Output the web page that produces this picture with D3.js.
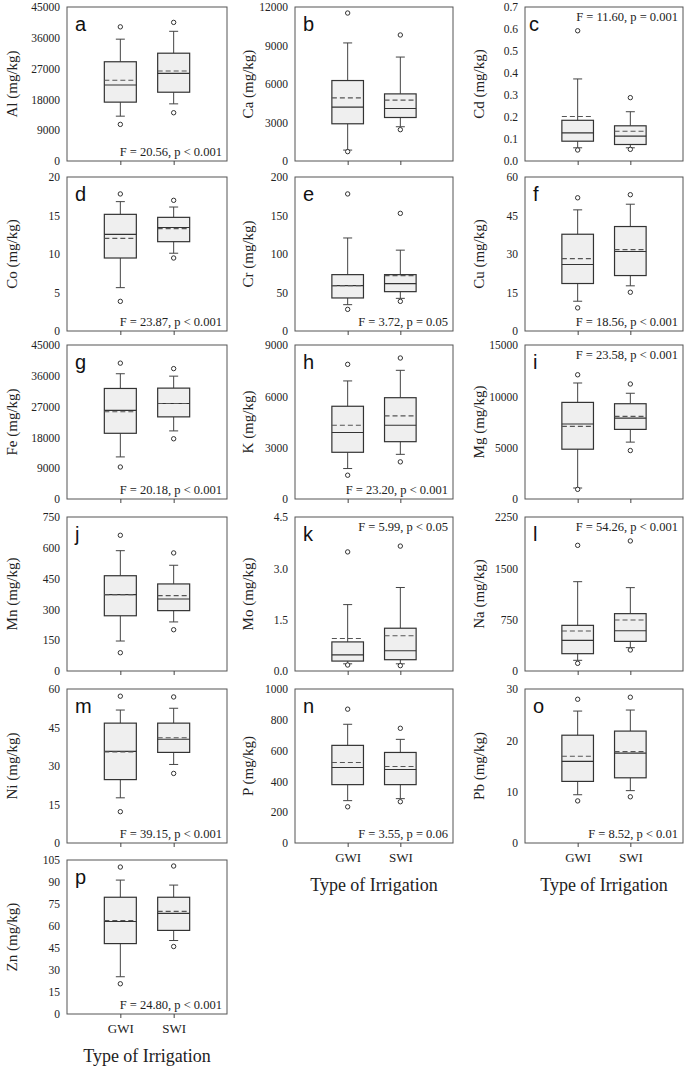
<!DOCTYPE html>
<html><head><meta charset="utf-8">
<script src="https://cdn.jsdelivr.net/npm/d3@7"></script>
<style>body{margin:0;background:#fff}svg{display:block}</style>
</head><body>
<svg id="chart" width="685" height="1071"></svg>
<script>
// ---- data ----
const letters  = ["a","b","c","d","e","f","g","h","i","j","k","l","m","n","o","p"];
const elements = ["Al","Ca","Cd","Co","Cr","Cu","Fe","K","Mg","Mn","Mo","Na","Ni","P","Pb","Zn"];
const groups   = ["GWI","SWI"];
const yMax  = [45000,12000,0.7,20,200,60,45000,9000,15000,750,4.5,2250,60,1000,30,105];
const yStep = [9000,3000,0.1,5,50,15,9000,3000,5000,150,1.5,750,15,200,10,15];
const fTexts = ["F = 20.56, p < 0.001","","F = 11.60, p = 0.001","F = 23.87, p < 0.001","F = 3.72, p = 0.05",
  "F = 18.56, p < 0.001","F = 20.18, p < 0.001","F = 23.20, p < 0.001","F = 23.58, p < 0.001","",
  "F = 5.99, p < 0.05","F = 54.26, p < 0.001","F = 39.15, p < 0.001","F = 3.55, p = 0.06","F = 8.52, p < 0.01","F = 24.80, p < 0.001"];
const fAtTop = [false,false,true,false,false,false,false,false,true,false,true,true,false,false,false,false];
// stats: [low outlier, low whisker, Q1, median, Q3, high whisker, high outlier, mean]
const gwiStats = [
  [10700,13100,17200,22200,29000,35600,39200,23600],
  [730,850,2900,4200,6270,9200,11530,4920],
  [0.050,0.060,0.090,0.128,0.185,0.373,0.592,0.202],
  [3.85,5.63,9.48,12.55,15.15,16.8,17.8,12.03],
  [28.1,34.2,42.9,58.9,73.2,120.8,178,58.9],
  [9.0,11.6,18.5,25.9,37.7,47.2,51.9,28.2],
  [9350,12300,19200,25900,32300,36600,39700,25500],
  [1390,1780,2730,3890,5420,6900,7870,4310],
  [940,1070,4850,7300,9410,11300,12100,7070],
  [89,146,269,372,464,586,661,372],
  [0.175,0.21,0.29,0.47,0.85,1.94,3.48,0.95],
  [112,156,253,448,667,1305,1836,584],
  [12.2,17.6,24.7,35.7,46.7,51.8,57.2,35.5],
  [235,275,379,490,634,771,869,523],
  [8.2,9.4,12.0,15.9,21.0,25.7,28.0,16.9],
  [20.6,25.4,48.0,63.1,79.6,91.3,100.2,63.8]
];
const swiStats = [
  [14100,16700,20100,25600,31500,37900,40500,26300],
  [2440,2670,3390,4090,5230,8100,9820,4740],
  [0.053,0.060,0.075,0.113,0.160,0.224,0.288,0.135],
  [9.48,10.1,11.6,13.45,14.76,16.1,16.97,13.3],
  [38.5,42.4,51.1,61.5,73.2,105,152.8,71.9],
  [15.1,17.6,21.6,31.0,40.7,49.4,53.1,31.7],
  [17600,19900,24000,27900,32400,35900,38100,27900],
  [2170,2610,3350,4310,5920,7520,8240,4860],
  [4720,5540,6780,7880,9280,10300,11200,8050],
  [201,239,294,351,424,515,575,367],
  [0.156,0.21,0.33,0.59,1.25,2.44,3.65,1.03],
  [307,341,433,589,838,1218,1900,745],
  [27.1,30.6,35.3,40.4,46.7,52.5,56.9,41.0],
  [268,288,379,477,588,673,745,497],
  [9.0,10.2,12.7,17.5,21.8,25.9,28.4,17.8],
  [46.0,50.1,57.0,68.6,79.6,87.9,100.9,70.0]
];
const xTitle = "Type of Irrigation";

// ---- layout ----
const colLeft = [67, 295, 525];
const colWidth = [160, 158, 158];
const rowTop = [7, 177, 345, 517, 689, 860];
const plotH = 154;
const titleOffset = [53, 45, 44];
const serif = "'Liberation Serif','Times New Roman',serif";
const sans = "'Liberation Sans',Arial,sans-serif";
const bottomPanels = ["m","n","o","p"].slice(1); // n, o, p carry x labels

const svg = d3.select("#chart");

letters.forEach((L, i) => {
  const col = i % 3, row = Math.floor(i / 3);
  const left = colLeft[col], right = left + colWidth[col];
  const top = rowTop[row], bottom = top + plotH;
  const g = svg.append("g");
  const y = d3.scaleLinear().domain([0, yMax[i]]).range([bottom, top]);
  const x = d3.scaleLinear().domain([0, 3]).range([left, right]);
  const frac = !Number.isInteger(yStep[i]);
  const fmt = frac ? d3.format(".1f") : d3.format("d");
  const ticks = d3.range(0, yMax[i] + yStep[i] * 0.01, yStep[i]);

  // frame
  g.append("rect").attr("x", left).attr("y", top).attr("width", right - left).attr("height", plotH)
    .attr("fill", "none").attr("stroke", "#555").attr("stroke-width", 1);

  // y axis
  const ya = g.append("g").attr("transform", `translate(${left},0)`)
    .call(d3.axisLeft(y).tickValues(ticks).tickSize(0).tickPadding(7).tickFormat(fmt));
  ya.select(".domain").remove();
  ya.selectAll("text").attr("font-family", serif).attr("font-size", 11.5).attr("fill", "#222");

  // x axis
  const showX = bottomPanels.includes(L);
  const xa = g.append("g").attr("transform", `translate(0,${bottom})`)
    .call(d3.axisBottom(x).tickValues([1, 2]).tickSize(4).tickPadding(6)
      .tickFormat((d) => showX ? groups[d - 1] : ""));
  xa.select(".domain").remove();
  xa.selectAll("line").attr("stroke", "#444");
  xa.selectAll("text").attr("font-family", serif).attr("font-size", 13).attr("fill", "#222");

  // y title
  g.append("text")
    .attr("transform", `translate(${left - titleOffset[col]},${(top + bottom) / 2}) rotate(-90)`)
    .attr("text-anchor", "middle").attr("dominant-baseline", "middle")
    .attr("font-family", serif).attr("font-size", 15).attr("fill", "#222")
    .text(`${elements[i]} (mg/kg)`);

  // x title
  if (showX) {
    g.append("text").attr("x", (left + right) / 2).attr("y", bottom + 48)
      .attr("text-anchor", "middle").attr("font-family", serif).attr("font-size", 18).attr("fill", "#222")
      .text(xTitle);
  }

  // boxes
  [gwiStats[i], swiStats[i]].forEach((s, k) => {
    const cx = x(k + 1), bw = x(0.6) - x(0), cap = 9;
    const bx = g.append("g");
    // whiskers
    bx.append("line").attr("x1", cx).attr("x2", cx).attr("y1", y(s[4])).attr("y2", y(s[5])).attr("stroke", "#444");
    bx.append("line").attr("x1", cx).attr("x2", cx).attr("y1", y(s[2])).attr("y2", y(s[1])).attr("stroke", "#444");
    bx.append("line").attr("x1", cx - cap / 2).attr("x2", cx + cap / 2).attr("y1", y(s[5])).attr("y2", y(s[5])).attr("stroke", "#444");
    bx.append("line").attr("x1", cx - cap / 2).attr("x2", cx + cap / 2).attr("y1", y(s[1])).attr("y2", y(s[1])).attr("stroke", "#444");
    // box
    bx.append("rect").attr("x", cx - bw / 2).attr("y", y(s[4])).attr("width", bw).attr("height", y(s[2]) - y(s[4]))
      .attr("fill", "#efefef").attr("stroke", "#333").attr("stroke-width", 1.2);
    // median
    bx.append("line").attr("x1", cx - bw / 2).attr("x2", cx + bw / 2).attr("y1", y(s[3])).attr("y2", y(s[3]))
      .attr("stroke", "#333").attr("stroke-width", 1.1);
    // mean
    bx.append("line").attr("x1", cx - bw / 2).attr("x2", cx + bw / 2).attr("y1", y(s[7])).attr("y2", y(s[7]))
      .attr("stroke", "#555").attr("stroke-width", 1.1).attr("stroke-dasharray", "5,3");
    // outliers
    [s[0], s[6]].forEach(v => {
      bx.append("circle").attr("cx", cx).attr("cy", y(v)).attr("r", 2.2)
        .attr("fill", "#fff").attr("stroke", "#333").attr("stroke-width", 1);
    });
  });

  // panel letter
  g.append("text").attr("x", left + (L === "c" ? 4 : 8)).attr("y", top + 24)
    .attr("font-family", sans).attr("font-size", 20).attr("fill", "#111").text(L);

  // F text
  if (fTexts[i]) {
    g.append("text").attr("x", right - 5).attr("y", fAtTop[i] ? top + 14 : bottom - 5)
      .attr("text-anchor", "end").attr("font-family", serif).attr("font-size", 12.5).attr("fill", "#222")
      .text(fTexts[i]);
  }
});
</script>
</body></html>
